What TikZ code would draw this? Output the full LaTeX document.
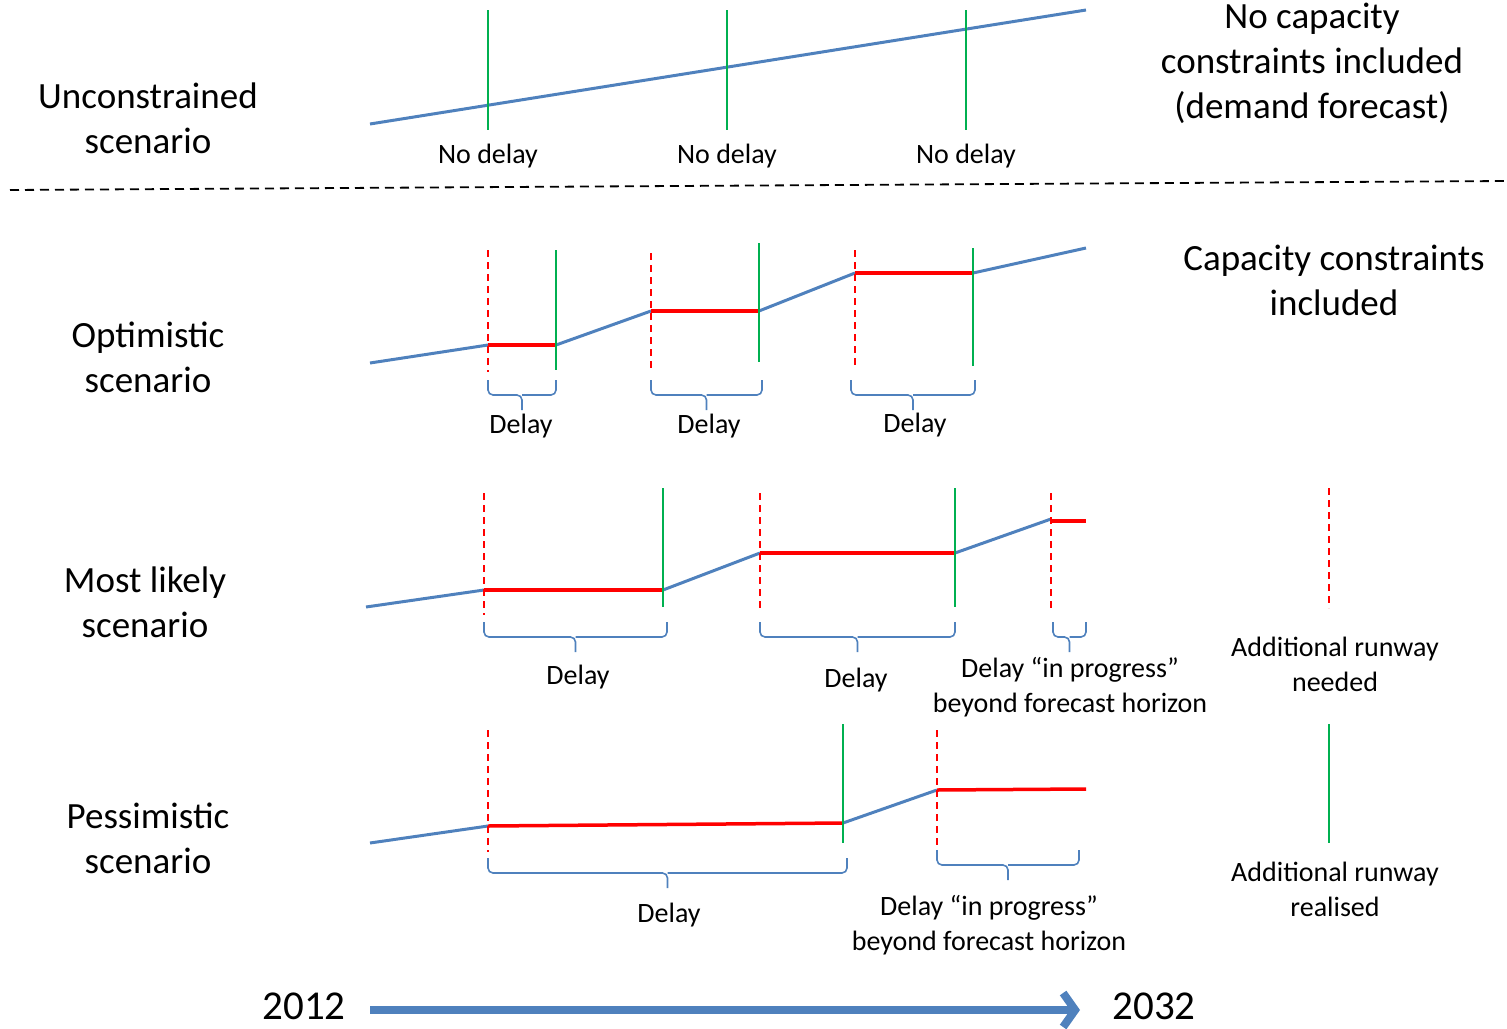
\documentclass[tikz,border=0pt]{standalone}
\usepackage{fontspec}
\setmainfont{Carlito}
\usetikzlibrary{arrows.meta}
\definecolor{figblue}{HTML}{4F81BD}
\definecolor{figred}{HTML}{FF0000}
\definecolor{figgreen}{HTML}{00B050}

% square brace under a delay: left x, right x, top y
\newcommand{\spanbrace}[3]{%
  \draw[span] (#1,#3) -- (#1,#3+15) -- ({(#1+#2)/2},#3+15) -- ({(#1+#2)/2},#3+30)
    ({(#1+#2)/2},#3+15) -- (#2,#3+15) -- (#2,#3);}

\begin{document}
\begin{tikzpicture}[
  x=1pt, y=-1pt,
  demand/.style={figblue, line width=3pt, line join=round},
  held/.style={figred, line width=3.5pt},
  needed/.style={figred, line width=1.8pt, dash pattern=on 7pt off 5pt},
  realised/.style={figgreen, line width=1.8pt},
  span/.style={figblue, line width=1.6pt, rounded corners=5pt},
  scen/.style={align=center, font=\fontsize{37}{45}\selectfont},
  note/.style={align=center, font=\fontsize{28}{35}\selectfont},
  year/.style={font=\fontsize{41}{45}\selectfont},
]
\useasboundingbox (0,0) rectangle (1507,1028);

% Scenario names
\node[scen] (unc) at (148,118) {Unconstrained\\scenario};
\node[scen] (opt) at (148,357) {Optimistic\\scenario};
\node[scen] (mli) at (145,602) {Most likely\\scenario};
\node[scen] (pes) at (148,838) {Pessimistic\\scenario};

% Headings on the right
\node[scen] (nocap) at (1312,63) {No capacity\\constraints included\\(demand forecast)};
\node[scen] (cap) at (1334,280) {Capacity constraints\\included};

% Unconstrained
\draw[demand] (370,124) -- (1086,10);
\foreach \x in {488,727,966}{
  \draw[realised] (\x,10) -- (\x,130);
  \node[note] (free\x) at (\x,156) {No delay};
}

% Separator
\draw[black, line width=1.8pt, dash pattern=on 9pt off 6pt] (10,190) -- (1507,181);

% Optimistic
\draw[demand] (370,363) -- (488,345) (556,345) -- (651,311)
  (759,311) -- (855,273) (973,273) -- (1086,248);
\draw[held] (488,345) -- (556,345);
\draw[held] (651,311) -- (759,311);
\draw[held] (855,273) -- (973,273);
\draw[needed] (488,250) -- (488,372);
\draw[realised] (556,250) -- (556,370);
\draw[needed] (651,253) -- (651,372);
\draw[realised] (759,243) -- (759,362);
\draw[needed] (855,250) -- (855,368);
\draw[realised] (973,248) -- (973,366);
\spanbrace{488}{556}{380}
\spanbrace{651}{762}{380}
\spanbrace{851}{975}{380}
\node[note] (od1) at (521,426) {Delay};
\node[note] (od2) at (709,426) {Delay};
\node[note] (od3) at (915,425) {Delay};

% Most likely
\draw[demand] (366,607) -- (484,590) (663,590) -- (760,553)
  (955,553) -- (1051,519);
\draw[held] (484,590) -- (663,590);
\draw[held] (760,553) -- (955,553);
\draw[held] (1051,521) -- (1086,521);
\draw[needed] (484,493) -- (484,615);
\draw[realised] (663,488) -- (663,607);
\draw[needed] (760,493) -- (760,612);
\draw[realised] (955,488) -- (955,607);
\draw[needed] (1051,493) -- (1051,612);
\spanbrace{484}{667}{622}
\spanbrace{760}{955}{622}
\spanbrace{1053}{1086}{622}
\node[note] (md1) at (578,677) {Delay};
\node[note] (md2) at (856,680) {Delay};
\node[note] (md3) at (1070,687) {Delay “in progress”\\beyond forecast horizon};

% Pessimistic
\draw[demand] (370,843) -- (488,826) (843,823) -- (937,790);
\draw[held] (488,826) -- (843,823);
\draw[held] (937,790) -- (1086,789);
\draw[needed] (488,730) -- (488,852);
\draw[realised] (843,724) -- (843,843);
\draw[needed] (937,730) -- (937,852);
\spanbrace{488}{847}{858}
\spanbrace{937}{1079}{850}
\node[note] (pd1) at (669,915) {Delay};
\node[note] (pd2) at (989,925) {Delay “in progress”\\beyond forecast horizon};

% Legend
\draw[needed] (1329,488) -- (1329,608);
\node[note] (leg1) at (1335,664) {Additional runway\\needed};
\draw[realised] (1329,724) -- (1329,843);
\node[note] (leg2) at (1335,889) {Additional runway\\realised};

% Time axis
\node[year] (t0) at (304,1006) {2012};
\node[year] (t1) at (1154,1006) {2032};
\draw[figblue, line width=8pt, -{Straight Barb[length=12pt, width=34pt]}]
  (370,1010) -- (1080,1010);

\end{tikzpicture}
\end{document}
